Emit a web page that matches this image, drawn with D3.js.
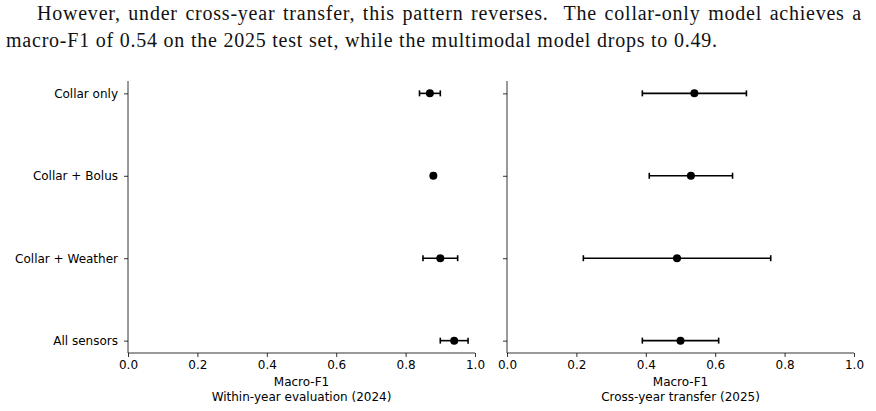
<!DOCTYPE html>
<html>
<head>
<meta charset="utf-8">
<script src="https://cdn.jsdelivr.net/npm/d3@7"></script>
<style>
  body { margin: 0; background: #fff; }
  svg { display: block; }
</style>
</head>
<body>
<div id="chart"></div>
<script>
// paragraph text above the figure
let para_line1 = 'However, under cross-year transfer, this pattern reverses.  The collar-only model achieves a'
let para_line2 = 'macro-F1 of 0.54 on the 2025 test set, while the multimodal model drops to 0.49.'

let models = ['Collar only', 'Collar + Bolus', 'Collar + Weather', 'All sensors']
let xTicks = [0.0, 0.2, 0.4, 0.6, 0.8, 1.0]

// within-year (2024)
let within_mean = [0.87, 0.88, 0.90, 0.94]
let within_err = [0.03, 0.005, 0.05, 0.04]
// cross-year (2025)
let cross_mean = [0.54, 0.53, 0.49, 0.50]
let cross_err = [0.15, 0.12, 0.27, 0.11]

let panels = [
    {mean: within_mean, err: within_err, title: 'Within-year evaluation (2024)', left: 128, right: 475, labels: true},
    {mean: cross_mean, err: cross_err, title: 'Cross-year transfer (2025)', left: 507, right: 854, labels: false}
]

let width = 876
let height = 411
let plotTop = 81, plotBottom = 353

let svg = d3.select('#chart').append('svg').attr('width', width).attr('height', height)

// paragraph - second line sets the letter spacing, first line is justified
let serif = "'Liberation Serif', 'DejaVu Serif', serif"
let t2 = svg.append('text').attr('x', 6).attr('y', 47).style('font-family', serif).style('font-size', '20px')
    .attr('fill', '#111').text(para_line2)
let ls = (711 - t2.node().getComputedTextLength()) / (para_line2.length - 1)
t2.style('letter-spacing', ls + 'px')
let t1 = svg.append('text').attr('x', 37).attr('y', 20).style('font-family', serif).style('font-size', '20px')
    .style('white-space', 'pre').style('letter-spacing', ls + 'px')
    .attr('fill', '#111').text(para_line1)
let natural = t1.node().getComputedTextLength()
let spaces = para_line1.split(' ').length - 1
t1.style('word-spacing', ((862 - 37 - natural) / spaces) + 'px')

let y = d3.scaleLinear().domain([-0.15, 3.15]).range([plotTop, plotBottom])

panels.forEach(p => {
    let x = d3.scaleLinear().domain([0, 1]).range([p.left, p.right])
    let g = svg.append('g')

    let xAxis = d3.axisBottom(x).tickValues(xTicks).tickFormat(d3.format('.1f')).tickSize(4).tickPadding(3.5)
    let gx = g.append('g').attr('transform', 'translate(0,' + plotBottom + ')').call(xAxis)
    let yAxis = d3.axisLeft(y).tickValues(d3.range(models.length)).tickSize(4).tickPadding(6)
        .tickFormat(i => p.labels ? models[i] : '')
    let gy = g.append('g').attr('transform', 'translate(' + p.left + ',0)').call(yAxis)

    ;[gx, gy].forEach(a => {
        a.select('.domain').remove()
        a.selectAll('line').attr('stroke', '#000').attr('stroke-width', 0.8)
        a.selectAll('text').style('font-family', "'DejaVu Sans', sans-serif").style('font-size', '12px').attr('fill', '#000')
    })
    // spines
    g.append('line').attr('x1', p.left).attr('x2', p.right).attr('y1', plotBottom).attr('y2', plotBottom)
        .attr('stroke', '#000').attr('stroke-width', 0.8)
    g.append('line').attr('x1', p.left).attr('x2', p.left).attr('y1', plotTop).attr('y2', plotBottom)
        .attr('stroke', '#000').attr('stroke-width', 0.8)

    let cx = (p.left + p.right) / 2
    g.append('text').attr('x', cx).attr('y', 386).attr('text-anchor', 'middle')
        .style('font-family', "'DejaVu Sans', sans-serif").style('font-size', '12px').text('Macro-F1')
    g.append('text').attr('x', cx).attr('y', 401).attr('text-anchor', 'middle')
        .style('font-family', "'DejaVu Sans', sans-serif").style('font-size', '12px').text(p.title)

    // error bars
    let rows = p.mean.map((m, i) => ({m: m, e: p.err[i], i: i}))
    let eb = g.selectAll('.eb').data(rows).enter().append('g').attr('class', 'eb')
    eb.append('line').attr('x1', d => x(d.m - d.e)).attr('x2', d => x(d.m + d.e))
        .attr('y1', d => y(d.i)).attr('y2', d => y(d.i)).attr('stroke', '#000').attr('stroke-width', 1.6)
    eb.append('line').attr('x1', d => x(d.m - d.e)).attr('x2', d => x(d.m - d.e))
        .attr('y1', d => y(d.i) - 3).attr('y2', d => y(d.i) + 3).attr('stroke', '#000').attr('stroke-width', 1.6)
    eb.append('line').attr('x1', d => x(d.m + d.e)).attr('x2', d => x(d.m + d.e))
        .attr('y1', d => y(d.i) - 3).attr('y2', d => y(d.i) + 3).attr('stroke', '#000').attr('stroke-width', 1.6)
    eb.append('circle').attr('cx', d => x(d.m)).attr('cy', d => y(d.i)).attr('r', 4).attr('fill', '#000')
})
</script>
</body>
</html>
